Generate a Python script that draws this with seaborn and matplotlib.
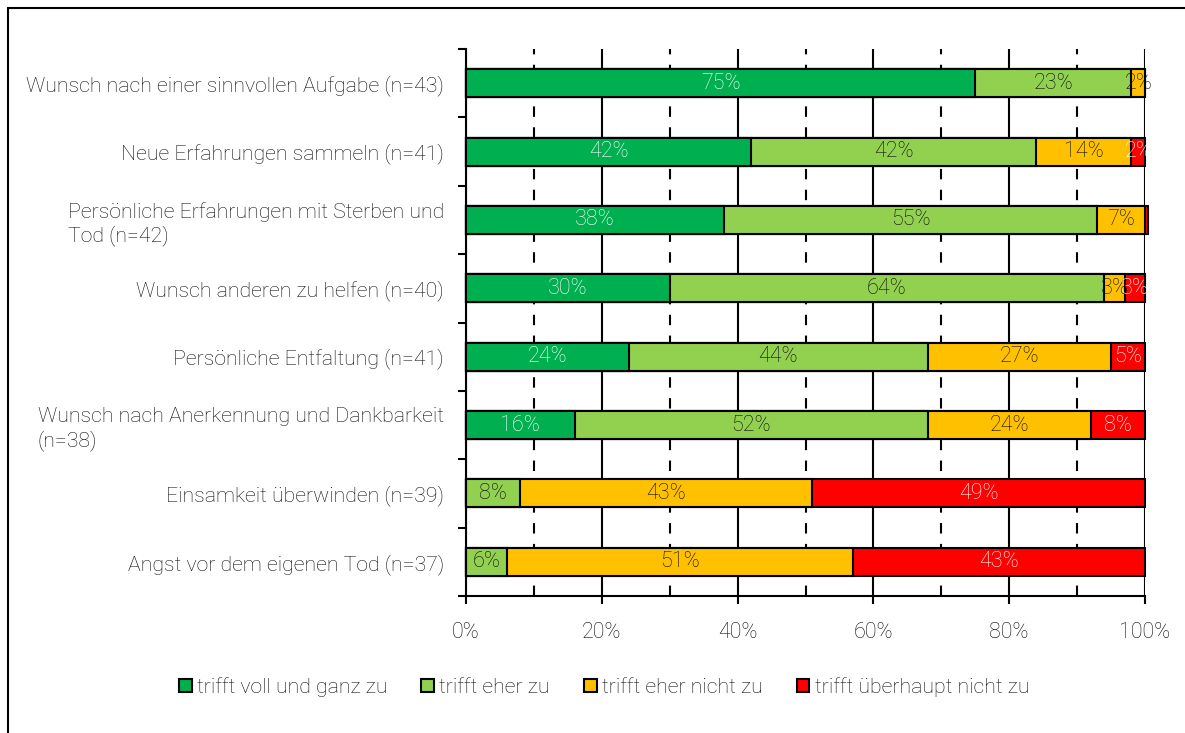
import numpy as np
import pandas as pd
import matplotlib
matplotlib.use("Agg")
import matplotlib.pyplot as plt
import seaborn as sns
from matplotlib.patches import Patch, Rectangle

categories = [
    "Wunsch nach einer sinnvollen Aufgabe (n=43)",
    "Neue Erfahrungen sammeln (n=41)",
    "Persönliche Erfahrungen mit Sterben und\nTod (n=42)",
    "Wunsch anderen zu helfen (n=40)",
    "Persönliche Entfaltung (n=41)",
    "Wunsch nach Anerkennung und Dankbarkeit\n(n=38)",
    "Einsamkeit überwinden (n=39)",
    "Angst vor dem eigenen Tod (n=37)",
]
series_names = ["trifft voll und ganz zu", "trifft eher zu",
                "trifft eher nicht zu", "trifft überhaupt nicht zu"]
voll = [75, 42, 38, 30, 24, 16, 0, 0]
eher = [23, 42, 55, 64, 44, 52, 8, 6]
eher_nicht = [2, 14, 7, 3, 27, 24, 43, 51]
gar_nicht = [0, 2, 0.4, 3, 5, 8, 49, 43]
xticks = [0, 20, 40, 60, 80, 100]
xtick_labels = ["0%", "20%", "40%", "60%", "80%", "100%"]

colors = ["#00B050", "#92D050", "#FFC000", "#FF0000"]
TXT = "#0d0d0d"
text_colors = ["white", TXT, TXT, "white"]

sns.set_style("white")
plt.rcParams["font.family"] = ["Roboto", "DejaVu Sans"]
plt.rcParams["font.weight"] = "light"

FS = 15.3
NFS = 15.5

fig = plt.figure(figsize=(11.85, 7.33), dpi=100)
ax = fig.add_axes([466 / 1185, 1 - 596 / 733, (1145 - 466) / 1185, (596 - 49) / 733])

vals = np.array([voll, eher, eher_nicht, gar_nicht], dtype=float)
cum = np.cumsum(vals, axis=0)
df = pd.DataFrame({"cat": categories})
for i in range(3, -1, -1):
    df["v"] = cum[i]
    sns.barplot(data=df, x="v", y="cat", orient="h", color=colors[i],
                saturation=1, edgecolor="black", linewidth=1.5, width=0.41,
                ax=ax, zorder=3)
for p in ax.patches:
    p.set_clip_on(False)

# labels
for i in range(4):
    for j in range(len(categories)):
        v = vals[i, j]
        if v >= 1:
            xc = cum[i, j] - v / 2
            ax.text(xc, j, f"{int(round(v))}%", ha="center", va="center",
                    color=text_colors[i], fontsize=NFS, zorder=5, clip_on=False)

ax.set_xlim(0, 100)
ax.set_ylim(len(categories) - 0.5, -0.5)
ax.set_xlabel("")
ax.set_ylabel("")
ax.set_xticks(xticks)
ax.set_xticklabels(xtick_labels, fontsize=NFS, color=TXT)
ax.set_xticks([10, 30, 50, 70, 90], minor=True)
ax.set_yticks(range(len(categories)))
ax.set_yticklabels(categories, fontsize=FS, color=TXT)
for lbl in ax.get_yticklabels():
    lbl.set_multialignment("left")
ax.set_yticks(np.arange(-0.5, len(categories)), minor=True)
ax.tick_params(axis="y", which="major", length=0, pad=16)
ax.tick_params(axis="y", which="minor", length=6, width=1.5, color="black", direction="out", left=True)
ax.tick_params(axis="x", which="major", length=6, width=1.5, color="black", direction="out", bottom=True, pad=13)
ax.tick_params(axis="x", which="minor", length=0)

ax.set_axisbelow(True)
ax.grid(axis="x", which="major", color="black", linestyle="-", linewidth=1.5)
ax.grid(axis="x", which="minor", color="black", linestyle=(0, (5, 5)), linewidth=1.5)
ax.grid(axis="y", visible=False)

for s in ["top", "right"]:
    ax.spines[s].set_visible(False)
for s in ["left", "bottom"]:
    ax.spines[s].set_color("black")
    ax.spines[s].set_linewidth(1.5)

handles = [Patch(facecolor=c, edgecolor="black", linewidth=1.5) for c in colors]
fig.legend(handles, series_names, loc="center", ncol=4,
           bbox_to_anchor=(604 / 1185, 1 - 687 / 733), frameon=False,
           fontsize=FS, handlelength=0.6, handleheight=0.6,
           handletextpad=0.25, columnspacing=1.6, labelcolor=TXT)

fig.patches.append(Rectangle((8 / 1185, -0.05), 1.2, 1 - 8 / 733 + 0.05,
                             transform=fig.transFigure, fill=False,
                             edgecolor="black", linewidth=1.5))

fig.savefig("out.png", dpi=100)
